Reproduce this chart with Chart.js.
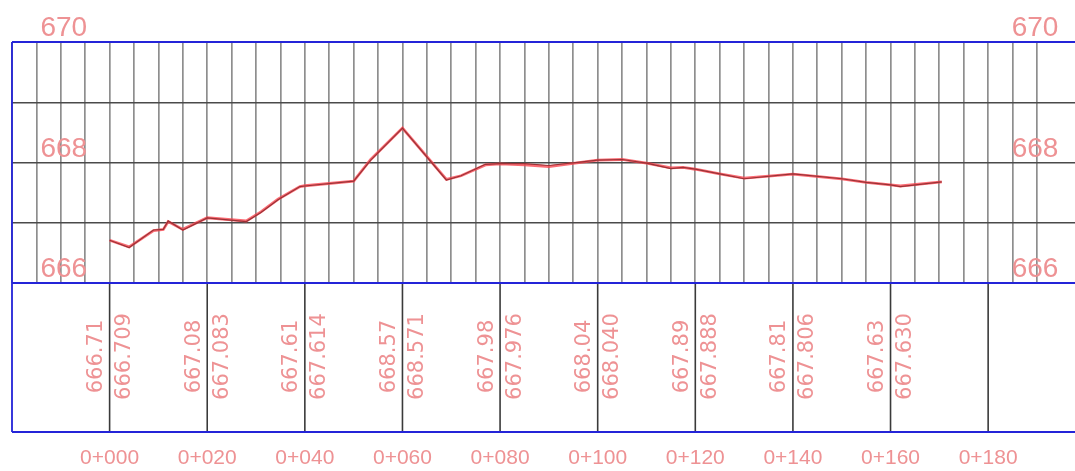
<!DOCTYPE html>
<html>
<head>
<meta charset="utf-8">
<script src="https://cdn.jsdelivr.net/npm/chart.js@4/dist/chart.umd.min.js"></script>
<style>
  html, body { margin: 0; padding: 0; background: #fff; overflow: hidden; }
  #wrap { position: relative; width: 1076px; height: 471px; }
</style>
</head>
<body>
<div id="wrap"><canvas id="profile"></canvas></div>
<script>
// Chainage (m) of each surveyed break point along the profile
const stations = [0, 4, 9, 11, 12, 15, 20, 28, 31, 34.5, 39, 40, 50, 53.5, 60, 69, 72, 77, 80, 85,
                  90, 100, 105, 110, 115, 117.5, 120, 125, 130, 140, 150, 155, 160, 162, 170.5];
// Ground levels (m)
const groundLevels = [666.71, 666.59, 666.88, 666.89, 667.03, 666.88, 667.08, 667.02, 667.17, 667.38,
                      667.60, 667.61, 667.69, 668.04, 668.57, 667.71, 667.78, 667.97, 667.98, 667.98,
                      667.95, 668.04, 668.05, 667.99, 667.90, 667.92, 667.89, 667.81, 667.73, 667.81,
                      667.73, 667.67, 667.63, 667.60, 667.68];
// Design levels (m)
const designLevels = [666.709, 666.60, 666.87, 666.89, 667.02, 666.89, 667.083, 667.03, 667.18, 667.39,
                      667.60, 667.614, 667.69, 668.05, 668.571, 667.72, 667.78, 667.96, 667.976, 667.96,
                      667.93, 668.040, 668.05, 667.99, 667.91, 667.92, 667.888, 667.81, 667.74, 667.806,
                      667.73, 667.67, 667.630, 667.61, 667.68];

// Table rows at the 20 m stations
const tableStations = [0, 20, 40, 60, 80, 100, 120, 140, 160];
const groundLabels = ['666.71', '667.08', '667.61', '668.57', '667.98', '668.04', '667.89', '667.81', '667.63'];
const designLabels = ['666.709', '667.083', '667.614', '668.571', '667.976', '668.040', '667.888', '667.806', '667.630'];

// Chainage ticks and elevation labels
const stationTicks = [0, 20, 40, 60, 80, 100, 120, 140, 160, 180];
const elevationLabels = [670, 668, 666];

const TEXT_RED = '#ee9294';
const FRAME_BLUE = '#2424d8';
const TABLE_BOTTOM = 432;

function chainage(s) {
  return '0+' + String(s).padStart(3, '0');
}

const profileSheet = {
  id: 'profileSheet',
  afterDraw(chart) {
    const { ctx, chartArea: a, scales: { x, y } } = chart;
    ctx.save();

    // station dividers in the level table
    ctx.strokeStyle = '#3a3a3a';
    ctx.lineWidth = 1.6;
    stationTicks.forEach(s => {
      const px = x.getPixelForValue(s);
      ctx.beginPath();
      ctx.moveTo(px, a.bottom);
      ctx.lineTo(px, TABLE_BOTTOM);
      ctx.stroke();
    });

    // sheet frame
    ctx.strokeStyle = FRAME_BLUE;
    ctx.lineWidth = 1.8;
    ctx.beginPath();
    ctx.moveTo(a.left, a.top); ctx.lineTo(a.right, a.top);
    ctx.moveTo(a.left, a.bottom); ctx.lineTo(a.right, a.bottom);
    ctx.moveTo(a.left, TABLE_BOTTOM); ctx.lineTo(a.right, TABLE_BOTTOM);
    ctx.moveTo(a.left, a.top); ctx.lineTo(a.left, TABLE_BOTTOM);
    ctx.stroke();

    ctx.fillStyle = TEXT_RED;

    // elevation labels on both sides
    ctx.font = '28px "Liberation Sans", Arial, sans-serif';
    ctx.textAlign = 'center';
    ctx.textBaseline = 'alphabetic';
    elevationLabels.forEach(v => {
      const py = y.getPixelForValue(v) - 6;
      ctx.fillText(String(v), x.getPixelForValue(-9.4), py);
      ctx.fillText(String(v), x.getPixelForValue(189.6), py);
    });

    // chainage labels under the table
    ctx.font = '21px "Liberation Sans", Arial, sans-serif';
    ctx.textBaseline = 'middle';
    stationTicks.forEach(s => {
      ctx.fillText(chainage(s), x.getPixelForValue(s), 458);
    });

    // ground / design levels, written upwards beside each station line
    ctx.font = '21px "DejaVu Sans", sans-serif';
    const midY = (a.bottom + TABLE_BOTTOM) / 2 - 1;
    tableStations.forEach((s, i) => {
      const px = x.getPixelForValue(s);
      [[px - 13, groundLabels[i]], [px + 15, designLabels[i]]].forEach(([cx, txt]) => {
        ctx.save();
        ctx.translate(cx, midY);
        ctx.rotate(-Math.PI / 2);
        ctx.fillText(txt, 0, 0);
        ctx.restore();
      });
    });

    ctx.restore();
  }
};

new Chart(document.getElementById('profile'), {
  type: 'line',
  data: {
    datasets: [
      {
        label: 'Ground',
        data: stations.map((s, i) => ({ x: s, y: groundLevels[i] })),
        borderColor: '#9a3236',
        borderWidth: 1.2,
        pointRadius: 0,
        tension: 0,
        order: 0
      },
      {
        label: 'Design',
        data: stations.map((s, i) => ({ x: s, y: designLevels[i] })),
        borderColor: 'rgba(250, 70, 80, 0.8)',
        borderWidth: 2.8,
        pointRadius: 0,
        tension: 0,
        order: 1
      }
    ]
  },
  options: {
    responsive: true,
    maintainAspectRatio: false,
    animation: false,
    events: [],
    layout: { padding: { left: 12, top: 42, right: 0, bottom: 188 } },
    plugins: { legend: { display: false }, tooltip: { enabled: false } },
    scales: {
      x: {
        type: 'linear',
        min: -20,
        max: 198,
        ticks: { display: false, stepSize: 5 },
        grid: { color: '#8e8e8e', lineWidth: 1.7, drawTicks: false },
        border: { display: false }
      },
      y: {
        min: 666,
        max: 670,
        ticks: { display: false, stepSize: 1 },
        grid: { color: '#4a4a4a', lineWidth: 1.4, drawTicks: false },
        border: { display: false }
      }
    }
  },
  plugins: [profileSheet]
});
</script>
</body>
</html>
